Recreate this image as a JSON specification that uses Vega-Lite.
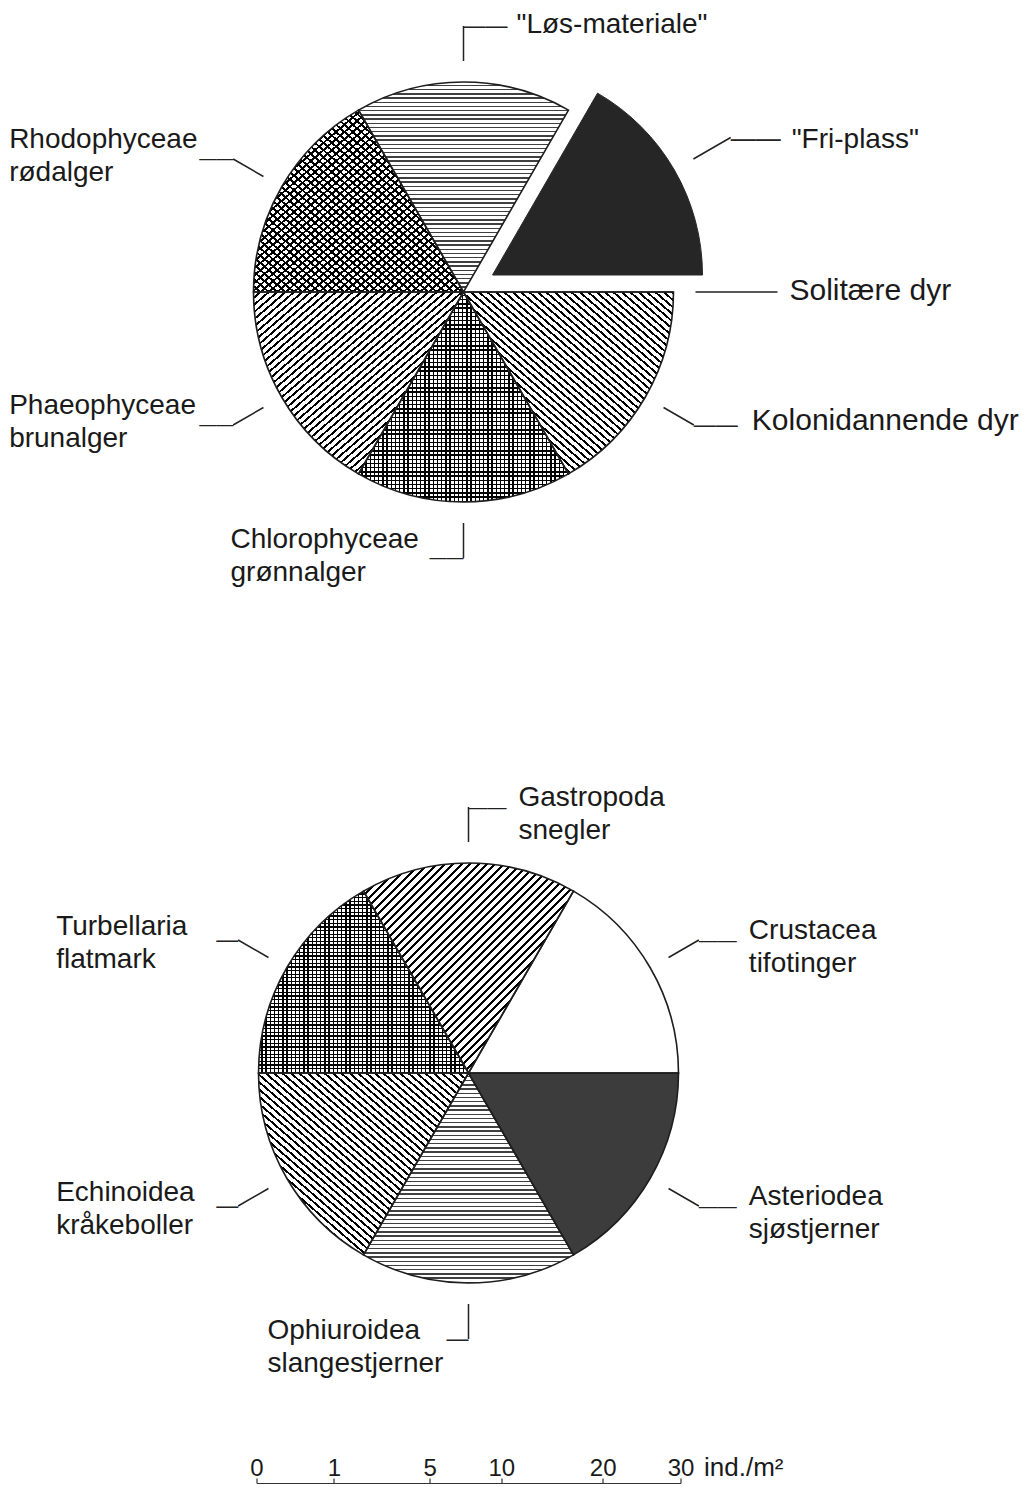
{
"padding": 0,
"background": "white",
"config": {
"view": {"stroke": null},
"style": {
"hatchA": {"color": {"gradient": "linear", "x1": 0, "y1": 0, "x2": 1, "y2": 1, "stops": [{"offset":0,"color":"#0000"},{"offset":0.013,"color":"#0000"},{"offset":0.013,"color":"#000"},{"offset":0.02,"color":"#000"},{"offset":0.02,"color":"#0000"},{"offset":0.033,"color":"#0000"},{"offset":0.033,"color":"#000"},{"offset":0.04,"color":"#000"},{"offset":0.04,"color":"#0000"},{"offset":0.053,"color":"#0000"},{"offset":0.053,"color":"#000"},{"offset":0.06,"color":"#000"},{"offset":0.06,"color":"#0000"},{"offset":0.073,"color":"#0000"},{"offset":0.073,"color":"#000"},{"offset":0.08,"color":"#000"},{"offset":0.08,"color":"#0000"},{"offset":0.093,"color":"#0000"},{"offset":0.093,"color":"#000"},{"offset":0.1,"color":"#000"},{"offset":0.1,"color":"#0000"},{"offset":0.113,"color":"#0000"},{"offset":0.113,"color":"#000"},{"offset":0.12,"color":"#000"},{"offset":0.12,"color":"#0000"},{"offset":0.133,"color":"#0000"},{"offset":0.133,"color":"#000"},{"offset":0.14,"color":"#000"},{"offset":0.14,"color":"#0000"},{"offset":0.153,"color":"#0000"},{"offset":0.153,"color":"#000"},{"offset":0.16,"color":"#000"},{"offset":0.16,"color":"#0000"},{"offset":0.173,"color":"#0000"},{"offset":0.173,"color":"#000"},{"offset":0.18,"color":"#000"},{"offset":0.18,"color":"#0000"},{"offset":0.193,"color":"#0000"},{"offset":0.193,"color":"#000"},{"offset":0.2,"color":"#000"},{"offset":0.2,"color":"#0000"},{"offset":0.213,"color":"#0000"},{"offset":0.213,"color":"#000"},{"offset":0.22,"color":"#000"},{"offset":0.22,"color":"#0000"},{"offset":0.233,"color":"#0000"},{"offset":0.233,"color":"#000"},{"offset":0.24,"color":"#000"},{"offset":0.24,"color":"#0000"},{"offset":0.253,"color":"#0000"},{"offset":0.253,"color":"#000"},{"offset":0.26,"color":"#000"},{"offset":0.26,"color":"#0000"},{"offset":0.273,"color":"#0000"},{"offset":0.273,"color":"#000"},{"offset":0.28,"color":"#000"},{"offset":0.28,"color":"#0000"},{"offset":0.293,"color":"#0000"},{"offset":0.293,"color":"#000"},{"offset":0.3,"color":"#000"},{"offset":0.3,"color":"#0000"},{"offset":0.313,"color":"#0000"},{"offset":0.313,"color":"#000"},{"offset":0.32,"color":"#000"},{"offset":0.32,"color":"#0000"},{"offset":0.333,"color":"#0000"},{"offset":0.333,"color":"#000"},{"offset":0.34,"color":"#000"},{"offset":0.34,"color":"#0000"},{"offset":0.353,"color":"#0000"},{"offset":0.353,"color":"#000"},{"offset":0.36,"color":"#000"},{"offset":0.36,"color":"#0000"},{"offset":0.373,"color":"#0000"},{"offset":0.373,"color":"#000"},{"offset":0.38,"color":"#000"},{"offset":0.38,"color":"#0000"},{"offset":0.393,"color":"#0000"},{"offset":0.393,"color":"#000"},{"offset":0.4,"color":"#000"},{"offset":0.4,"color":"#0000"},{"offset":0.413,"color":"#0000"},{"offset":0.413,"color":"#000"},{"offset":0.42,"color":"#000"},{"offset":0.42,"color":"#0000"},{"offset":0.433,"color":"#0000"},{"offset":0.433,"color":"#000"},{"offset":0.44,"color":"#000"},{"offset":0.44,"color":"#0000"},{"offset":0.453,"color":"#0000"},{"offset":0.453,"color":"#000"},{"offset":0.46,"color":"#000"},{"offset":0.46,"color":"#0000"},{"offset":0.473,"color":"#0000"},{"offset":0.473,"color":"#000"},{"offset":0.48,"color":"#000"},{"offset":0.48,"color":"#0000"},{"offset":0.493,"color":"#0000"},{"offset":0.493,"color":"#000"},{"offset":0.5,"color":"#000"},{"offset":0.5,"color":"#0000"},{"offset":0.513,"color":"#0000"},{"offset":0.513,"color":"#000"},{"offset":0.52,"color":"#000"},{"offset":0.52,"color":"#0000"},{"offset":0.533,"color":"#0000"},{"offset":0.533,"color":"#000"},{"offset":0.54,"color":"#000"},{"offset":0.54,"color":"#0000"},{"offset":0.553,"color":"#0000"},{"offset":0.553,"color":"#000"},{"offset":0.56,"color":"#000"},{"offset":0.56,"color":"#0000"},{"offset":0.573,"color":"#0000"},{"offset":0.573,"color":"#000"},{"offset":0.58,"color":"#000"},{"offset":0.58,"color":"#0000"},{"offset":0.593,"color":"#0000"},{"offset":0.593,"color":"#000"},{"offset":0.6,"color":"#000"},{"offset":0.6,"color":"#0000"},{"offset":0.613,"color":"#0000"},{"offset":0.613,"color":"#000"},{"offset":0.62,"color":"#000"},{"offset":0.62,"color":"#0000"},{"offset":0.633,"color":"#0000"},{"offset":0.633,"color":"#000"},{"offset":0.64,"color":"#000"},{"offset":0.64,"color":"#0000"},{"offset":0.653,"color":"#0000"},{"offset":0.653,"color":"#000"},{"offset":0.66,"color":"#000"},{"offset":0.66,"color":"#0000"},{"offset":0.673,"color":"#0000"},{"offset":0.673,"color":"#000"},{"offset":0.68,"color":"#000"},{"offset":0.68,"color":"#0000"},{"offset":0.693,"color":"#0000"},{"offset":0.693,"color":"#000"},{"offset":0.7,"color":"#000"},{"offset":0.7,"color":"#0000"},{"offset":0.713,"color":"#0000"},{"offset":0.713,"color":"#000"},{"offset":0.72,"color":"#000"},{"offset":0.72,"color":"#0000"},{"offset":0.733,"color":"#0000"},{"offset":0.733,"color":"#000"},{"offset":0.74,"color":"#000"},{"offset":0.74,"color":"#0000"},{"offset":0.753,"color":"#0000"},{"offset":0.753,"color":"#000"},{"offset":0.76,"color":"#000"},{"offset":0.76,"color":"#0000"},{"offset":0.773,"color":"#0000"},{"offset":0.773,"color":"#000"},{"offset":0.78,"color":"#000"},{"offset":0.78,"color":"#0000"},{"offset":0.793,"color":"#0000"},{"offset":0.793,"color":"#000"},{"offset":0.8,"color":"#000"},{"offset":0.8,"color":"#0000"},{"offset":0.813,"color":"#0000"},{"offset":0.813,"color":"#000"},{"offset":0.82,"color":"#000"},{"offset":0.82,"color":"#0000"},{"offset":0.833,"color":"#0000"},{"offset":0.833,"color":"#000"},{"offset":0.84,"color":"#000"},{"offset":0.84,"color":"#0000"},{"offset":0.853,"color":"#0000"},{"offset":0.853,"color":"#000"},{"offset":0.86,"color":"#000"},{"offset":0.86,"color":"#0000"},{"offset":0.873,"color":"#0000"},{"offset":0.873,"color":"#000"},{"offset":0.88,"color":"#000"},{"offset":0.88,"color":"#0000"},{"offset":0.893,"color":"#0000"},{"offset":0.893,"color":"#000"},{"offset":0.9,"color":"#000"},{"offset":0.9,"color":"#0000"},{"offset":0.913,"color":"#0000"},{"offset":0.913,"color":"#000"},{"offset":0.92,"color":"#000"},{"offset":0.92,"color":"#0000"},{"offset":0.933,"color":"#0000"},{"offset":0.933,"color":"#000"},{"offset":0.94,"color":"#000"},{"offset":0.94,"color":"#0000"},{"offset":0.953,"color":"#0000"},{"offset":0.953,"color":"#000"},{"offset":0.96,"color":"#000"},{"offset":0.96,"color":"#0000"},{"offset":0.973,"color":"#0000"},{"offset":0.973,"color":"#000"},{"offset":0.98,"color":"#000"},{"offset":0.98,"color":"#0000"},{"offset":0.993,"color":"#0000"},{"offset":0.993,"color":"#000"},{"offset":1,"color":"#000"}]}},
"hatchB": {"color": {"gradient": "linear", "x1": 0, "y1": 1, "x2": 1, "y2": 0, "stops": [{"offset":0,"color":"#0000"},{"offset":0.013,"color":"#0000"},{"offset":0.013,"color":"#000"},{"offset":0.02,"color":"#000"},{"offset":0.02,"color":"#0000"},{"offset":0.033,"color":"#0000"},{"offset":0.033,"color":"#000"},{"offset":0.04,"color":"#000"},{"offset":0.04,"color":"#0000"},{"offset":0.053,"color":"#0000"},{"offset":0.053,"color":"#000"},{"offset":0.06,"color":"#000"},{"offset":0.06,"color":"#0000"},{"offset":0.073,"color":"#0000"},{"offset":0.073,"color":"#000"},{"offset":0.08,"color":"#000"},{"offset":0.08,"color":"#0000"},{"offset":0.093,"color":"#0000"},{"offset":0.093,"color":"#000"},{"offset":0.1,"color":"#000"},{"offset":0.1,"color":"#0000"},{"offset":0.113,"color":"#0000"},{"offset":0.113,"color":"#000"},{"offset":0.12,"color":"#000"},{"offset":0.12,"color":"#0000"},{"offset":0.133,"color":"#0000"},{"offset":0.133,"color":"#000"},{"offset":0.14,"color":"#000"},{"offset":0.14,"color":"#0000"},{"offset":0.153,"color":"#0000"},{"offset":0.153,"color":"#000"},{"offset":0.16,"color":"#000"},{"offset":0.16,"color":"#0000"},{"offset":0.173,"color":"#0000"},{"offset":0.173,"color":"#000"},{"offset":0.18,"color":"#000"},{"offset":0.18,"color":"#0000"},{"offset":0.193,"color":"#0000"},{"offset":0.193,"color":"#000"},{"offset":0.2,"color":"#000"},{"offset":0.2,"color":"#0000"},{"offset":0.213,"color":"#0000"},{"offset":0.213,"color":"#000"},{"offset":0.22,"color":"#000"},{"offset":0.22,"color":"#0000"},{"offset":0.233,"color":"#0000"},{"offset":0.233,"color":"#000"},{"offset":0.24,"color":"#000"},{"offset":0.24,"color":"#0000"},{"offset":0.253,"color":"#0000"},{"offset":0.253,"color":"#000"},{"offset":0.26,"color":"#000"},{"offset":0.26,"color":"#0000"},{"offset":0.273,"color":"#0000"},{"offset":0.273,"color":"#000"},{"offset":0.28,"color":"#000"},{"offset":0.28,"color":"#0000"},{"offset":0.293,"color":"#0000"},{"offset":0.293,"color":"#000"},{"offset":0.3,"color":"#000"},{"offset":0.3,"color":"#0000"},{"offset":0.313,"color":"#0000"},{"offset":0.313,"color":"#000"},{"offset":0.32,"color":"#000"},{"offset":0.32,"color":"#0000"},{"offset":0.333,"color":"#0000"},{"offset":0.333,"color":"#000"},{"offset":0.34,"color":"#000"},{"offset":0.34,"color":"#0000"},{"offset":0.353,"color":"#0000"},{"offset":0.353,"color":"#000"},{"offset":0.36,"color":"#000"},{"offset":0.36,"color":"#0000"},{"offset":0.373,"color":"#0000"},{"offset":0.373,"color":"#000"},{"offset":0.38,"color":"#000"},{"offset":0.38,"color":"#0000"},{"offset":0.393,"color":"#0000"},{"offset":0.393,"color":"#000"},{"offset":0.4,"color":"#000"},{"offset":0.4,"color":"#0000"},{"offset":0.413,"color":"#0000"},{"offset":0.413,"color":"#000"},{"offset":0.42,"color":"#000"},{"offset":0.42,"color":"#0000"},{"offset":0.433,"color":"#0000"},{"offset":0.433,"color":"#000"},{"offset":0.44,"color":"#000"},{"offset":0.44,"color":"#0000"},{"offset":0.453,"color":"#0000"},{"offset":0.453,"color":"#000"},{"offset":0.46,"color":"#000"},{"offset":0.46,"color":"#0000"},{"offset":0.473,"color":"#0000"},{"offset":0.473,"color":"#000"},{"offset":0.48,"color":"#000"},{"offset":0.48,"color":"#0000"},{"offset":0.493,"color":"#0000"},{"offset":0.493,"color":"#000"},{"offset":0.5,"color":"#000"},{"offset":0.5,"color":"#0000"},{"offset":0.513,"color":"#0000"},{"offset":0.513,"color":"#000"},{"offset":0.52,"color":"#000"},{"offset":0.52,"color":"#0000"},{"offset":0.533,"color":"#0000"},{"offset":0.533,"color":"#000"},{"offset":0.54,"color":"#000"},{"offset":0.54,"color":"#0000"},{"offset":0.553,"color":"#0000"},{"offset":0.553,"color":"#000"},{"offset":0.56,"color":"#000"},{"offset":0.56,"color":"#0000"},{"offset":0.573,"color":"#0000"},{"offset":0.573,"color":"#000"},{"offset":0.58,"color":"#000"},{"offset":0.58,"color":"#0000"},{"offset":0.593,"color":"#0000"},{"offset":0.593,"color":"#000"},{"offset":0.6,"color":"#000"},{"offset":0.6,"color":"#0000"},{"offset":0.613,"color":"#0000"},{"offset":0.613,"color":"#000"},{"offset":0.62,"color":"#000"},{"offset":0.62,"color":"#0000"},{"offset":0.633,"color":"#0000"},{"offset":0.633,"color":"#000"},{"offset":0.64,"color":"#000"},{"offset":0.64,"color":"#0000"},{"offset":0.653,"color":"#0000"},{"offset":0.653,"color":"#000"},{"offset":0.66,"color":"#000"},{"offset":0.66,"color":"#0000"},{"offset":0.673,"color":"#0000"},{"offset":0.673,"color":"#000"},{"offset":0.68,"color":"#000"},{"offset":0.68,"color":"#0000"},{"offset":0.693,"color":"#0000"},{"offset":0.693,"color":"#000"},{"offset":0.7,"color":"#000"},{"offset":0.7,"color":"#0000"},{"offset":0.713,"color":"#0000"},{"offset":0.713,"color":"#000"},{"offset":0.72,"color":"#000"},{"offset":0.72,"color":"#0000"},{"offset":0.733,"color":"#0000"},{"offset":0.733,"color":"#000"},{"offset":0.74,"color":"#000"},{"offset":0.74,"color":"#0000"},{"offset":0.753,"color":"#0000"},{"offset":0.753,"color":"#000"},{"offset":0.76,"color":"#000"},{"offset":0.76,"color":"#0000"},{"offset":0.773,"color":"#0000"},{"offset":0.773,"color":"#000"},{"offset":0.78,"color":"#000"},{"offset":0.78,"color":"#0000"},{"offset":0.793,"color":"#0000"},{"offset":0.793,"color":"#000"},{"offset":0.8,"color":"#000"},{"offset":0.8,"color":"#0000"},{"offset":0.813,"color":"#0000"},{"offset":0.813,"color":"#000"},{"offset":0.82,"color":"#000"},{"offset":0.82,"color":"#0000"},{"offset":0.833,"color":"#0000"},{"offset":0.833,"color":"#000"},{"offset":0.84,"color":"#000"},{"offset":0.84,"color":"#0000"},{"offset":0.853,"color":"#0000"},{"offset":0.853,"color":"#000"},{"offset":0.86,"color":"#000"},{"offset":0.86,"color":"#0000"},{"offset":0.873,"color":"#0000"},{"offset":0.873,"color":"#000"},{"offset":0.88,"color":"#000"},{"offset":0.88,"color":"#0000"},{"offset":0.893,"color":"#0000"},{"offset":0.893,"color":"#000"},{"offset":0.9,"color":"#000"},{"offset":0.9,"color":"#0000"},{"offset":0.913,"color":"#0000"},{"offset":0.913,"color":"#000"},{"offset":0.92,"color":"#000"},{"offset":0.92,"color":"#0000"},{"offset":0.933,"color":"#0000"},{"offset":0.933,"color":"#000"},{"offset":0.94,"color":"#000"},{"offset":0.94,"color":"#0000"},{"offset":0.953,"color":"#0000"},{"offset":0.953,"color":"#000"},{"offset":0.96,"color":"#000"},{"offset":0.96,"color":"#0000"},{"offset":0.973,"color":"#0000"},{"offset":0.973,"color":"#000"},{"offset":0.98,"color":"#000"},{"offset":0.98,"color":"#0000"},{"offset":0.993,"color":"#0000"},{"offset":0.993,"color":"#000"},{"offset":1,"color":"#000"}]}},
"hatchH": {"color": {"gradient": "linear", "x1": 0, "y1": 0, "x2": 0, "y2": 1, "stops": [{"offset":0,"color":"#0000"},{"offset":0.013,"color":"#0000"},{"offset":0.013,"color":"#000"},{"offset":0.02,"color":"#000"},{"offset":0.02,"color":"#0000"},{"offset":0.033,"color":"#0000"},{"offset":0.033,"color":"#000"},{"offset":0.04,"color":"#000"},{"offset":0.04,"color":"#0000"},{"offset":0.053,"color":"#0000"},{"offset":0.053,"color":"#000"},{"offset":0.06,"color":"#000"},{"offset":0.06,"color":"#0000"},{"offset":0.073,"color":"#0000"},{"offset":0.073,"color":"#000"},{"offset":0.08,"color":"#000"},{"offset":0.08,"color":"#0000"},{"offset":0.093,"color":"#0000"},{"offset":0.093,"color":"#000"},{"offset":0.1,"color":"#000"},{"offset":0.1,"color":"#0000"},{"offset":0.113,"color":"#0000"},{"offset":0.113,"color":"#000"},{"offset":0.12,"color":"#000"},{"offset":0.12,"color":"#0000"},{"offset":0.133,"color":"#0000"},{"offset":0.133,"color":"#000"},{"offset":0.14,"color":"#000"},{"offset":0.14,"color":"#0000"},{"offset":0.153,"color":"#0000"},{"offset":0.153,"color":"#000"},{"offset":0.16,"color":"#000"},{"offset":0.16,"color":"#0000"},{"offset":0.173,"color":"#0000"},{"offset":0.173,"color":"#000"},{"offset":0.18,"color":"#000"},{"offset":0.18,"color":"#0000"},{"offset":0.193,"color":"#0000"},{"offset":0.193,"color":"#000"},{"offset":0.2,"color":"#000"},{"offset":0.2,"color":"#0000"},{"offset":0.213,"color":"#0000"},{"offset":0.213,"color":"#000"},{"offset":0.22,"color":"#000"},{"offset":0.22,"color":"#0000"},{"offset":0.233,"color":"#0000"},{"offset":0.233,"color":"#000"},{"offset":0.24,"color":"#000"},{"offset":0.24,"color":"#0000"},{"offset":0.253,"color":"#0000"},{"offset":0.253,"color":"#000"},{"offset":0.26,"color":"#000"},{"offset":0.26,"color":"#0000"},{"offset":0.273,"color":"#0000"},{"offset":0.273,"color":"#000"},{"offset":0.28,"color":"#000"},{"offset":0.28,"color":"#0000"},{"offset":0.293,"color":"#0000"},{"offset":0.293,"color":"#000"},{"offset":0.3,"color":"#000"},{"offset":0.3,"color":"#0000"},{"offset":0.313,"color":"#0000"},{"offset":0.313,"color":"#000"},{"offset":0.32,"color":"#000"},{"offset":0.32,"color":"#0000"},{"offset":0.333,"color":"#0000"},{"offset":0.333,"color":"#000"},{"offset":0.34,"color":"#000"},{"offset":0.34,"color":"#0000"},{"offset":0.353,"color":"#0000"},{"offset":0.353,"color":"#000"},{"offset":0.36,"color":"#000"},{"offset":0.36,"color":"#0000"},{"offset":0.373,"color":"#0000"},{"offset":0.373,"color":"#000"},{"offset":0.38,"color":"#000"},{"offset":0.38,"color":"#0000"},{"offset":0.393,"color":"#0000"},{"offset":0.393,"color":"#000"},{"offset":0.4,"color":"#000"},{"offset":0.4,"color":"#0000"},{"offset":0.413,"color":"#0000"},{"offset":0.413,"color":"#000"},{"offset":0.42,"color":"#000"},{"offset":0.42,"color":"#0000"},{"offset":0.433,"color":"#0000"},{"offset":0.433,"color":"#000"},{"offset":0.44,"color":"#000"},{"offset":0.44,"color":"#0000"},{"offset":0.453,"color":"#0000"},{"offset":0.453,"color":"#000"},{"offset":0.46,"color":"#000"},{"offset":0.46,"color":"#0000"},{"offset":0.473,"color":"#0000"},{"offset":0.473,"color":"#000"},{"offset":0.48,"color":"#000"},{"offset":0.48,"color":"#0000"},{"offset":0.493,"color":"#0000"},{"offset":0.493,"color":"#000"},{"offset":0.5,"color":"#000"},{"offset":0.5,"color":"#0000"},{"offset":0.513,"color":"#0000"},{"offset":0.513,"color":"#000"},{"offset":0.52,"color":"#000"},{"offset":0.52,"color":"#0000"},{"offset":0.533,"color":"#0000"},{"offset":0.533,"color":"#000"},{"offset":0.54,"color":"#000"},{"offset":0.54,"color":"#0000"},{"offset":0.553,"color":"#0000"},{"offset":0.553,"color":"#000"},{"offset":0.56,"color":"#000"},{"offset":0.56,"color":"#0000"},{"offset":0.573,"color":"#0000"},{"offset":0.573,"color":"#000"},{"offset":0.58,"color":"#000"},{"offset":0.58,"color":"#0000"},{"offset":0.593,"color":"#0000"},{"offset":0.593,"color":"#000"},{"offset":0.6,"color":"#000"},{"offset":0.6,"color":"#0000"},{"offset":0.613,"color":"#0000"},{"offset":0.613,"color":"#000"},{"offset":0.62,"color":"#000"},{"offset":0.62,"color":"#0000"},{"offset":0.633,"color":"#0000"},{"offset":0.633,"color":"#000"},{"offset":0.64,"color":"#000"},{"offset":0.64,"color":"#0000"},{"offset":0.653,"color":"#0000"},{"offset":0.653,"color":"#000"},{"offset":0.66,"color":"#000"},{"offset":0.66,"color":"#0000"},{"offset":0.673,"color":"#0000"},{"offset":0.673,"color":"#000"},{"offset":0.68,"color":"#000"},{"offset":0.68,"color":"#0000"},{"offset":0.693,"color":"#0000"},{"offset":0.693,"color":"#000"},{"offset":0.7,"color":"#000"},{"offset":0.7,"color":"#0000"},{"offset":0.713,"color":"#0000"},{"offset":0.713,"color":"#000"},{"offset":0.72,"color":"#000"},{"offset":0.72,"color":"#0000"},{"offset":0.733,"color":"#0000"},{"offset":0.733,"color":"#000"},{"offset":0.74,"color":"#000"},{"offset":0.74,"color":"#0000"},{"offset":0.753,"color":"#0000"},{"offset":0.753,"color":"#000"},{"offset":0.76,"color":"#000"},{"offset":0.76,"color":"#0000"},{"offset":0.773,"color":"#0000"},{"offset":0.773,"color":"#000"},{"offset":0.78,"color":"#000"},{"offset":0.78,"color":"#0000"},{"offset":0.793,"color":"#0000"},{"offset":0.793,"color":"#000"},{"offset":0.8,"color":"#000"},{"offset":0.8,"color":"#0000"},{"offset":0.813,"color":"#0000"},{"offset":0.813,"color":"#000"},{"offset":0.82,"color":"#000"},{"offset":0.82,"color":"#0000"},{"offset":0.833,"color":"#0000"},{"offset":0.833,"color":"#000"},{"offset":0.84,"color":"#000"},{"offset":0.84,"color":"#0000"},{"offset":0.853,"color":"#0000"},{"offset":0.853,"color":"#000"},{"offset":0.86,"color":"#000"},{"offset":0.86,"color":"#0000"},{"offset":0.873,"color":"#0000"},{"offset":0.873,"color":"#000"},{"offset":0.88,"color":"#000"},{"offset":0.88,"color":"#0000"},{"offset":0.893,"color":"#0000"},{"offset":0.893,"color":"#000"},{"offset":0.9,"color":"#000"},{"offset":0.9,"color":"#0000"},{"offset":0.913,"color":"#0000"},{"offset":0.913,"color":"#000"},{"offset":0.92,"color":"#000"},{"offset":0.92,"color":"#0000"},{"offset":0.933,"color":"#0000"},{"offset":0.933,"color":"#000"},{"offset":0.94,"color":"#000"},{"offset":0.94,"color":"#0000"},{"offset":0.953,"color":"#0000"},{"offset":0.953,"color":"#000"},{"offset":0.96,"color":"#000"},{"offset":0.96,"color":"#0000"},{"offset":0.973,"color":"#0000"},{"offset":0.973,"color":"#000"},{"offset":0.98,"color":"#000"},{"offset":0.98,"color":"#0000"},{"offset":0.993,"color":"#0000"},{"offset":0.993,"color":"#000"},{"offset":1,"color":"#000"}]}},
"hatchV": {"color": {"gradient": "linear", "x1": 0, "y1": 0, "x2": 1, "y2": 0, "stops": [{"offset":0,"color":"#0000"},{"offset":0.013,"color":"#0000"},{"offset":0.013,"color":"#000"},{"offset":0.02,"color":"#000"},{"offset":0.02,"color":"#0000"},{"offset":0.033,"color":"#0000"},{"offset":0.033,"color":"#000"},{"offset":0.04,"color":"#000"},{"offset":0.04,"color":"#0000"},{"offset":0.053,"color":"#0000"},{"offset":0.053,"color":"#000"},{"offset":0.06,"color":"#000"},{"offset":0.06,"color":"#0000"},{"offset":0.073,"color":"#0000"},{"offset":0.073,"color":"#000"},{"offset":0.08,"color":"#000"},{"offset":0.08,"color":"#0000"},{"offset":0.093,"color":"#0000"},{"offset":0.093,"color":"#000"},{"offset":0.1,"color":"#000"},{"offset":0.1,"color":"#0000"},{"offset":0.113,"color":"#0000"},{"offset":0.113,"color":"#000"},{"offset":0.12,"color":"#000"},{"offset":0.12,"color":"#0000"},{"offset":0.133,"color":"#0000"},{"offset":0.133,"color":"#000"},{"offset":0.14,"color":"#000"},{"offset":0.14,"color":"#0000"},{"offset":0.153,"color":"#0000"},{"offset":0.153,"color":"#000"},{"offset":0.16,"color":"#000"},{"offset":0.16,"color":"#0000"},{"offset":0.173,"color":"#0000"},{"offset":0.173,"color":"#000"},{"offset":0.18,"color":"#000"},{"offset":0.18,"color":"#0000"},{"offset":0.193,"color":"#0000"},{"offset":0.193,"color":"#000"},{"offset":0.2,"color":"#000"},{"offset":0.2,"color":"#0000"},{"offset":0.213,"color":"#0000"},{"offset":0.213,"color":"#000"},{"offset":0.22,"color":"#000"},{"offset":0.22,"color":"#0000"},{"offset":0.233,"color":"#0000"},{"offset":0.233,"color":"#000"},{"offset":0.24,"color":"#000"},{"offset":0.24,"color":"#0000"},{"offset":0.253,"color":"#0000"},{"offset":0.253,"color":"#000"},{"offset":0.26,"color":"#000"},{"offset":0.26,"color":"#0000"},{"offset":0.273,"color":"#0000"},{"offset":0.273,"color":"#000"},{"offset":0.28,"color":"#000"},{"offset":0.28,"color":"#0000"},{"offset":0.293,"color":"#0000"},{"offset":0.293,"color":"#000"},{"offset":0.3,"color":"#000"},{"offset":0.3,"color":"#0000"},{"offset":0.313,"color":"#0000"},{"offset":0.313,"color":"#000"},{"offset":0.32,"color":"#000"},{"offset":0.32,"color":"#0000"},{"offset":0.333,"color":"#0000"},{"offset":0.333,"color":"#000"},{"offset":0.34,"color":"#000"},{"offset":0.34,"color":"#0000"},{"offset":0.353,"color":"#0000"},{"offset":0.353,"color":"#000"},{"offset":0.36,"color":"#000"},{"offset":0.36,"color":"#0000"},{"offset":0.373,"color":"#0000"},{"offset":0.373,"color":"#000"},{"offset":0.38,"color":"#000"},{"offset":0.38,"color":"#0000"},{"offset":0.393,"color":"#0000"},{"offset":0.393,"color":"#000"},{"offset":0.4,"color":"#000"},{"offset":0.4,"color":"#0000"},{"offset":0.413,"color":"#0000"},{"offset":0.413,"color":"#000"},{"offset":0.42,"color":"#000"},{"offset":0.42,"color":"#0000"},{"offset":0.433,"color":"#0000"},{"offset":0.433,"color":"#000"},{"offset":0.44,"color":"#000"},{"offset":0.44,"color":"#0000"},{"offset":0.453,"color":"#0000"},{"offset":0.453,"color":"#000"},{"offset":0.46,"color":"#000"},{"offset":0.46,"color":"#0000"},{"offset":0.473,"color":"#0000"},{"offset":0.473,"color":"#000"},{"offset":0.48,"color":"#000"},{"offset":0.48,"color":"#0000"},{"offset":0.493,"color":"#0000"},{"offset":0.493,"color":"#000"},{"offset":0.5,"color":"#000"},{"offset":0.5,"color":"#0000"},{"offset":0.513,"color":"#0000"},{"offset":0.513,"color":"#000"},{"offset":0.52,"color":"#000"},{"offset":0.52,"color":"#0000"},{"offset":0.533,"color":"#0000"},{"offset":0.533,"color":"#000"},{"offset":0.54,"color":"#000"},{"offset":0.54,"color":"#0000"},{"offset":0.553,"color":"#0000"},{"offset":0.553,"color":"#000"},{"offset":0.56,"color":"#000"},{"offset":0.56,"color":"#0000"},{"offset":0.573,"color":"#0000"},{"offset":0.573,"color":"#000"},{"offset":0.58,"color":"#000"},{"offset":0.58,"color":"#0000"},{"offset":0.593,"color":"#0000"},{"offset":0.593,"color":"#000"},{"offset":0.6,"color":"#000"},{"offset":0.6,"color":"#0000"},{"offset":0.613,"color":"#0000"},{"offset":0.613,"color":"#000"},{"offset":0.62,"color":"#000"},{"offset":0.62,"color":"#0000"},{"offset":0.633,"color":"#0000"},{"offset":0.633,"color":"#000"},{"offset":0.64,"color":"#000"},{"offset":0.64,"color":"#0000"},{"offset":0.653,"color":"#0000"},{"offset":0.653,"color":"#000"},{"offset":0.66,"color":"#000"},{"offset":0.66,"color":"#0000"},{"offset":0.673,"color":"#0000"},{"offset":0.673,"color":"#000"},{"offset":0.68,"color":"#000"},{"offset":0.68,"color":"#0000"},{"offset":0.693,"color":"#0000"},{"offset":0.693,"color":"#000"},{"offset":0.7,"color":"#000"},{"offset":0.7,"color":"#0000"},{"offset":0.713,"color":"#0000"},{"offset":0.713,"color":"#000"},{"offset":0.72,"color":"#000"},{"offset":0.72,"color":"#0000"},{"offset":0.733,"color":"#0000"},{"offset":0.733,"color":"#000"},{"offset":0.74,"color":"#000"},{"offset":0.74,"color":"#0000"},{"offset":0.753,"color":"#0000"},{"offset":0.753,"color":"#000"},{"offset":0.76,"color":"#000"},{"offset":0.76,"color":"#0000"},{"offset":0.773,"color":"#0000"},{"offset":0.773,"color":"#000"},{"offset":0.78,"color":"#000"},{"offset":0.78,"color":"#0000"},{"offset":0.793,"color":"#0000"},{"offset":0.793,"color":"#000"},{"offset":0.8,"color":"#000"},{"offset":0.8,"color":"#0000"},{"offset":0.813,"color":"#0000"},{"offset":0.813,"color":"#000"},{"offset":0.82,"color":"#000"},{"offset":0.82,"color":"#0000"},{"offset":0.833,"color":"#0000"},{"offset":0.833,"color":"#000"},{"offset":0.84,"color":"#000"},{"offset":0.84,"color":"#0000"},{"offset":0.853,"color":"#0000"},{"offset":0.853,"color":"#000"},{"offset":0.86,"color":"#000"},{"offset":0.86,"color":"#0000"},{"offset":0.873,"color":"#0000"},{"offset":0.873,"color":"#000"},{"offset":0.88,"color":"#000"},{"offset":0.88,"color":"#0000"},{"offset":0.893,"color":"#0000"},{"offset":0.893,"color":"#000"},{"offset":0.9,"color":"#000"},{"offset":0.9,"color":"#0000"},{"offset":0.913,"color":"#0000"},{"offset":0.913,"color":"#000"},{"offset":0.92,"color":"#000"},{"offset":0.92,"color":"#0000"},{"offset":0.933,"color":"#0000"},{"offset":0.933,"color":"#000"},{"offset":0.94,"color":"#000"},{"offset":0.94,"color":"#0000"},{"offset":0.953,"color":"#0000"},{"offset":0.953,"color":"#000"},{"offset":0.96,"color":"#000"},{"offset":0.96,"color":"#0000"},{"offset":0.973,"color":"#0000"},{"offset":0.973,"color":"#000"},{"offset":0.98,"color":"#000"},{"offset":0.98,"color":"#0000"},{"offset":0.993,"color":"#0000"},{"offset":0.993,"color":"#000"},{"offset":1,"color":"#000"}]}}
}
},
"spacing": 103,
"vconcat": [
{
"width": 927, "height": 584,
"data": {"values": [
{"kategori": "\"Løs-materiale\"", "andel": 1},
{"kategori": "\"Fri-plass\"", "andel": 1},
{"kategori": "Solitære dyr", "andel": 0},
{"kategori": "Kolonidannende dyr", "andel": 1},
{"kategori": "Chlorophyceae\ngrønnalger", "andel": 1},
{"kategori": "Phaeophyceae\nbrunalger", "andel": 1},
{"kategori": "Rhodophyceae\nrødalger", "andel": 1}
]},
"transform": [{"stack": "andel", "groupby": [], "as": ["v0", "v1"]}],
"encoding": {
"theta": {"field": "v0", "type": "quantitative", "scale": {"domain": [0, 6], "range": [-0.5236, 5.7596]}},
"theta2": {"field": "v1"}
},
"layer": [
{"transform": [{"filter": {"not": {"field": "kategori", "equal": "\"Fri-plass\""}}}], "mark": {"type": "arc", "radius": 210, "fill": "white"}},
{"transform": [{"filter": {"field": "kategori", "oneOf": ["Rhodophyceae\nrødalger", "Phaeophyceae\nbrunalger"]}}], "mark": {"type": "arc", "radius": 210, "style": "hatchA"}},
{"transform": [{"filter": {"field": "kategori", "oneOf": ["Rhodophyceae\nrødalger", "Kolonidannende dyr"]}}], "mark": {"type": "arc", "radius": 210, "style": "hatchB"}},
{"transform": [{"filter": {"field": "kategori", "equal": "\"Løs-materiale\""}}], "mark": {"type": "arc", "radius": 210, "style": "hatchH", "opacity": 0.75}},
{"transform": [{"filter": {"field": "kategori", "oneOf": ["Chlorophyceae\ngrønnalger"]}}], "mark": {"type": "arc", "radius": 210, "style": "hatchH"}},
{"transform": [{"filter": {"field": "kategori", "oneOf": ["Chlorophyceae\ngrønnalger"]}}], "mark": {"type": "arc", "radius": 210, "style": "hatchV"}},
{"transform": [{"filter": {"not": {"field": "kategori", "equal": "\"Fri-plass\""}}}], "mark": {"type": "arc", "radius": 210, "fill": "transparent", "stroke": "#1e1e1e", "strokeWidth": 1.6}},
{"transform": [{"filter": {"field": "kategori", "equal": "\"Fri-plass\""}}], "mark": {"type": "arc", "radius": 210, "fill": "#262626", "stroke": "#262626", "strokeWidth": 1, "xOffset": 29, "yOffset": -17}},
{"transform": [{"filter": {"field": "kategori", "oneOf": ["\"Løs-materiale\"", "Kolonidannende dyr", "Chlorophyceae\ngrønnalger", "Phaeophyceae\nbrunalger", "Rhodophyceae\nrødalger"]}}], "mark": {"type": "arc", "radius": 266, "radius2": 231, "padAngle": 1.2, "fill": "transparent", "stroke": "#222", "strokeWidth": 1.5}},
{"transform": [{"filter": {"field": "kategori", "equal": "\"Fri-plass\""}}], "mark": {"type": "arc", "radius": 275, "radius2": 232, "padAngle": 1.2, "fill": "transparent", "stroke": "#222", "strokeWidth": 1.5, "xOffset": 29, "yOffset": -17}},
{"transform": [{"filter": {"field": "kategori", "equal": "Solitære dyr"}}], "mark": {"type": "arc", "radius": 314, "radius2": 232, "padAngle": 1.2, "fill": "transparent", "stroke": "#222", "strokeWidth": 1.5}},
{"transform": [{"filter": {"field": "kategori", "oneOf": ["\"Løs-materiale\"", "Kolonidannende dyr"]}}], "mark": {"type": "text", "text": "——", "font": "Liberation Sans", "fontSize": 22, "align": "left", "baseline": "middle", "radius": 266, "thetaOffset": 0.5236, "fill": "#222"}},
{"transform": [{"filter": {"field": "kategori", "oneOf": ["Chlorophyceae\ngrønnalger", "Phaeophyceae\nbrunalger", "Rhodophyceae\nrødalger"]}}], "mark": {"type": "text", "text": "——", "font": "Liberation Sans", "fontSize": 17, "align": "right", "baseline": "middle", "radius": 266, "thetaOffset": 0.5236, "fill": "#222"}},
{"transform": [{"filter": {"field": "kategori", "equal": "\"Fri-plass\""}}], "mark": {"type": "text", "text": "——", "font": "Liberation Sans", "fontSize": 25, "align": "left", "baseline": "middle", "radius": 275, "thetaOffset": 0.5236, "dx": 29, "dy": -16, "fill": "#222"}},
{"transform": [{"filter": {"field": "kategori", "equal": "Kolonidannende dyr"}}], "mark": {"type": "text", "font": "Liberation Sans", "fontSize": 30, "align": "left", "baseline": "middle", "radius": 266, "thetaOffset": 0.5236, "dx": 58, "dy": -4, "fill": "#1a1a1a"}, "encoding": {"text": {"field": "kategori"}}},
{"transform": [{"filter": {"field": "kategori", "equal": "\"Løs-materiale\""}}], "mark": {"type": "text", "font": "Liberation Sans", "fontSize": 28, "align": "left", "baseline": "middle", "radius": 266, "thetaOffset": 0.5236, "dx": 53, "dy": -1, "fill": "#1a1a1a"}, "encoding": {"text": {"field": "kategori"}}},
{"transform": [{"filter": {"field": "kategori", "oneOf": ["Phaeophyceae\nbrunalger", "Rhodophyceae\nrødalger"]}}], "mark": {"type": "text", "font": "Liberation Sans", "fontSize": 28, "lineHeight": 33, "lineBreak": "\n", "align": "left", "baseline": "alphabetic", "radius": 266, "thetaOffset": 0.5236, "dx": -224, "dy": -11, "fill": "#1a1a1a"}, "encoding": {"text": {"field": "kategori"}}},
{"transform": [{"filter": {"field": "kategori", "equal": "Chlorophyceae\ngrønnalger"}}], "mark": {"type": "text", "font": "Liberation Sans", "fontSize": 28, "lineHeight": 33, "lineBreak": "\n", "align": "left", "baseline": "alphabetic", "radius": 266, "thetaOffset": 0.5236, "dx": -233, "dy": -10, "fill": "#1a1a1a"}, "encoding": {"text": {"field": "kategori"}}},
{"transform": [{"filter": {"field": "kategori", "equal": "\"Fri-plass\""}}], "mark": {"type": "text", "font": "Liberation Sans", "fontSize": 28, "align": "left", "baseline": "middle", "radius": 275, "thetaOffset": 0.5236, "dx": 90, "dy": -15, "fill": "#1a1a1a"}, "encoding": {"text": {"field": "kategori"}}},
{"transform": [{"filter": {"field": "kategori", "equal": "Solitære dyr"}}], "mark": {"type": "text", "font": "Liberation Sans", "fontSize": 30, "align": "left", "baseline": "middle", "radius": 314, "dx": 12, "dy": -1, "fill": "#1a1a1a"}, "encoding": {"text": {"field": "kategori"}}}
]
},
{
"spacing": 27,
"bounds": "flush",
"center": true,
"vconcat": [
{
"width": 937, "height": 766,
"data": {"values": [
{"kategori": "Gastropoda\nsnegler", "andel": 1},
{"kategori": "Crustacea\ntifotinger", "andel": 1},
{"kategori": "Asteriodea\nsjøstjerner", "andel": 1},
{"kategori": "Ophiuroidea\nslangestjerner", "andel": 1},
{"kategori": "Echinoidea\nkråkeboller", "andel": 1},
{"kategori": "Turbellaria\nflatmark", "andel": 1}
]},
"transform": [{"stack": "andel", "groupby": [], "as": ["v0", "v1"]}],
"encoding": {
"theta": {"field": "v0", "type": "quantitative", "scale": {"domain": [0, 6], "range": [-0.5236, 5.7596]}},
"theta2": {"field": "v1"}
},
"layer": [
{"mark": {"type": "arc", "radius": 210, "fill": "white"}},
{"transform": [{"filter": {"field": "kategori", "oneOf": ["Gastropoda\nsnegler"]}}], "mark": {"type": "arc", "radius": 210, "style": "hatchA"}},
{"transform": [{"filter": {"field": "kategori", "oneOf": ["Echinoidea\nkråkeboller"]}}], "mark": {"type": "arc", "radius": 210, "style": "hatchB"}},
{"transform": [{"filter": {"field": "kategori", "equal": "Ophiuroidea\nslangestjerner"}}], "mark": {"type": "arc", "radius": 210, "style": "hatchH", "opacity": 0.75}},
{"transform": [{"filter": {"field": "kategori", "oneOf": ["Turbellaria\nflatmark"]}}], "mark": {"type": "arc", "radius": 210, "style": "hatchH"}},
{"transform": [{"filter": {"field": "kategori", "oneOf": ["Turbellaria\nflatmark"]}}], "mark": {"type": "arc", "radius": 210, "style": "hatchV"}},
{"transform": [{"filter": {"field": "kategori", "equal": "Asteriodea\nsjøstjerner"}}], "mark": {"type": "arc", "radius": 210, "fill": "#3c3c3c"}},
{"mark": {"type": "arc", "radius": 210, "fill": "transparent", "stroke": "#1e1e1e", "strokeWidth": 1.6}},
{"mark": {"type": "arc", "radius": 266, "radius2": 231, "padAngle": 1.2, "fill": "transparent", "stroke": "#222", "strokeWidth": 1.5}},
{"transform": [{"filter": {"field": "kategori", "oneOf": ["Gastropoda\nsnegler", "Crustacea\ntifotinger", "Asteriodea\nsjøstjerner"]}}], "mark": {"type": "text", "text": "——", "font": "Liberation Sans", "fontSize": 19, "align": "left", "baseline": "middle", "radius": 266, "thetaOffset": 0.5236, "fill": "#222"}},
{"transform": [{"filter": {"field": "kategori", "oneOf": ["Turbellaria\nflatmark", "Echinoidea\nkråkeboller", "Ophiuroidea\nslangestjerner"]}}], "mark": {"type": "text", "text": "—", "font": "Liberation Sans", "fontSize": 22, "align": "right", "baseline": "middle", "radius": 266, "thetaOffset": 0.5236, "fill": "#222"}},
{"transform": [{"filter": {"field": "kategori", "oneOf": ["Gastropoda\nsnegler", "Crustacea\ntifotinger", "Asteriodea\nsjøstjerner"]}}], "mark": {"type": "text", "font": "Liberation Sans", "fontSize": 28, "lineHeight": 33, "lineBreak": "\n", "align": "left", "baseline": "alphabetic", "radius": 266, "thetaOffset": 0.5236, "dx": 50, "dy": -1, "fill": "#1a1a1a"}, "encoding": {"text": {"field": "kategori"}}},
{"transform": [{"filter": {"field": "kategori", "oneOf": ["Turbellaria\nflatmark", "Echinoidea\nkråkeboller"]}}], "mark": {"type": "text", "font": "Liberation Sans", "fontSize": 28, "lineHeight": 33, "lineBreak": "\n", "align": "left", "baseline": "alphabetic", "radius": 266, "thetaOffset": 0.5236, "dx": -182, "dy": -5, "fill": "#1a1a1a"}, "encoding": {"text": {"field": "kategori"}}},
{"transform": [{"filter": {"field": "kategori", "equal": "Ophiuroidea\nslangestjerner"}}], "mark": {"type": "text", "font": "Liberation Sans", "fontSize": 28, "lineHeight": 33, "lineBreak": "\n", "align": "left", "baseline": "alphabetic", "radius": 266, "thetaOffset": 0.5236, "dx": -201, "dy": 0, "fill": "#1a1a1a"}, "encoding": {"text": {"field": "kategori"}}}
]
},
{
"width": 424, "height": 1,
"data": {"values": [{"ind": 0}, {"ind": 1}, {"ind": 5}, {"ind": 10}, {"ind": 20}, {"ind": 30}]},
"mark": {"type": "point", "opacity": 0},
"encoding": {
"x": {"field": "ind", "type": "quantitative", "scale": {"type": "sqrt", "domain": [0, 30], "nice": false},
"axis": {"orient": "top", "values": [0, 1, 5, 10, 20, 30], "grid": false, "domainColor": "#333", "domainWidth": 1.2, "tickColor": "#333", "tickWidth": 1.2, "tickSize": 5, "labelFont": "Liberation Sans", "labelFontSize": 24, "labelColor": "#1a1a1a", "labelPadding": 3, "labelBaseline": "alphabetic", "labelFlush": false, "labelOverlap": false, "title": "ind./m²", "titleFont": "Liberation Sans", "titleFontSize": 26, "titleFontWeight": "normal", "titleColor": "#1a1a1a", "titleAngle": 0, "titleAlign": "left", "titleBaseline": "alphabetic", "titleX": 447, "titleY": -8}}
}
}
]
}
]
}
